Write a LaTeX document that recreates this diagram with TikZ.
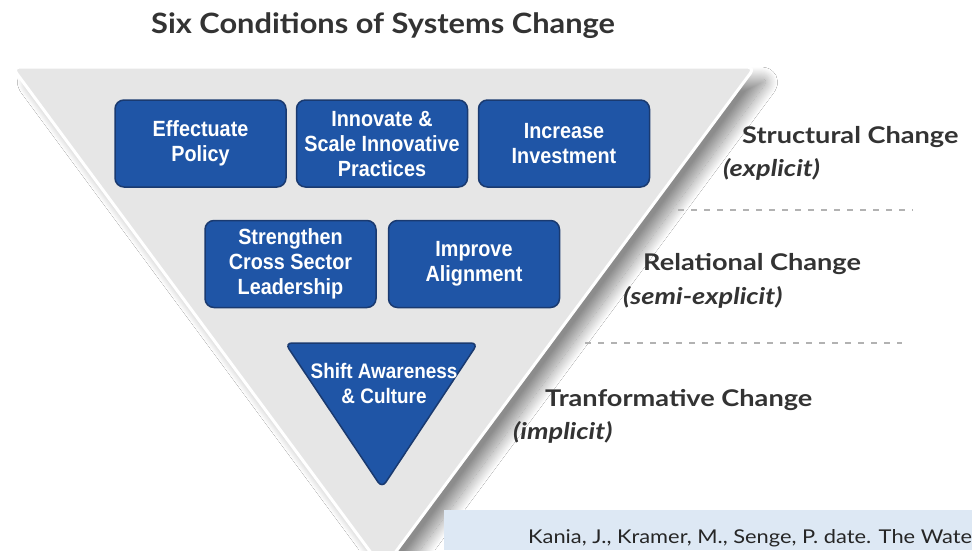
\documentclass[tikz,border=0pt]{standalone}
\usepackage{fontspec}
\setmainfont{Lato}
\newfontfamily\boxfont[FakeStretch=0.9]{Liberation Sans}
\newfontfamily\titlefont[FakeStretch=1.1]{Lato}
\newfontfamily\levelfont[FakeStretch=1.18]{Lato}
\newfontfamily\citefont[FakeStretch=1.15]{Lato}
\usetikzlibrary{shadows.blur}

\definecolor{boxblue}{HTML}{1F55A6}
\definecolor{boxedge}{HTML}{1A3A70}
\definecolor{funnelgray}{HTML}{E6E6E6}
\definecolor{labelgray}{HTML}{333333}
\definecolor{citeblue}{HTML}{DDE8F4}

\tikzset{
  condition/.style={draw=boxedge, line width=1.5pt, fill=boxblue, rounded corners=9pt,
    minimum width=171pt, minimum height=87pt, text=white, align=center,
    font=\boxfont\bfseries\fontsize{22}{25}\selectfont},
  level/.style={anchor=base west, inner sep=0pt, text=labelgray,
    font=\levelfont\bfseries\fontsize{23}{28}\selectfont},
  sublevel/.style={level, font=\levelfont\bfseries\itshape\fontsize{23}{28}\selectfont},
  divider/.style={draw=gray!60, line width=1.8pt, dash pattern=on 6pt off 7pt},
}

\begin{document}
\begin{tikzpicture}[x=1pt, y=-1pt]
    \useasboundingbox (0,0) rectangle (972,550);
    \fill[white] (0,0) rectangle (972,550);

    \node (title) [level, font=\titlefont\bfseries\fontsize{28}{34}\selectfont] at (151,33) {Six Conditions of Systems Change};

    % the funnel
    \path[fill=funnelgray, draw=white, line width=3pt, rounded corners=8pt,
        blur shadow={shadow xshift=14pt, shadow yshift=-12pt, shadow blur radius=12pt,
          shadow blur steps=24, shadow opacity=45}]
        (12,67) -- (755,67) -- (383,569) -- cycle;

    \node (effectuate) [condition] at (200.5,143.5) {Effectuate\\Policy};
    \node (innovate) [condition] at (382,143.5) {Innovate \&\\Scale Innovative\\Practices};
    \node (invest) [condition] at (564,143.5) {Increase\\Investment};
    \node (leadership) [condition] at (290.5,264) {Strengthen\\Cross Sector\\Leadership};
    \node (alignment) [condition] at (474,264) {Improve\\Alignment};

    \draw[draw=boxedge, line width=1.5pt, fill=boxblue, rounded corners=7pt]
        (285,343) -- (478,343) -- (382,488) -- cycle;
    \node (culture) [align=center, text=white, font=\boxfont\bfseries\fontsize{21}{25}\selectfont] at (384,383) {Shift Awareness\\\& Culture};

    % levels of change
    \node (structural) [level] at (742,143) {Structural Change};
    \node (explicit) [sublevel] at (723,176) {(explicit)};
    \draw[divider] (678,210) -- (913,210);
    \node (relational) [level] at (643,270) {Relational Change};
    \node (semi) [sublevel] at (623,304) {(semi-explicit)};
    \draw[divider] (585,343) -- (902,343);
    \node (transformative) [level] at (545,406) {Tranformative Change};
    \node (implicit) [sublevel] at (513,439) {(implicit)};

    \fill[citeblue] (444,510) rectangle (972,550);
    \node (cite) [anchor=base west, inner sep=0pt, text=black!85, font=\citefont\fontsize{19}{23}\selectfont] at (528,543) {Kania, J., Kramer, M., Senge, P. date. The Wate};
\end{tikzpicture}
\end{document}
